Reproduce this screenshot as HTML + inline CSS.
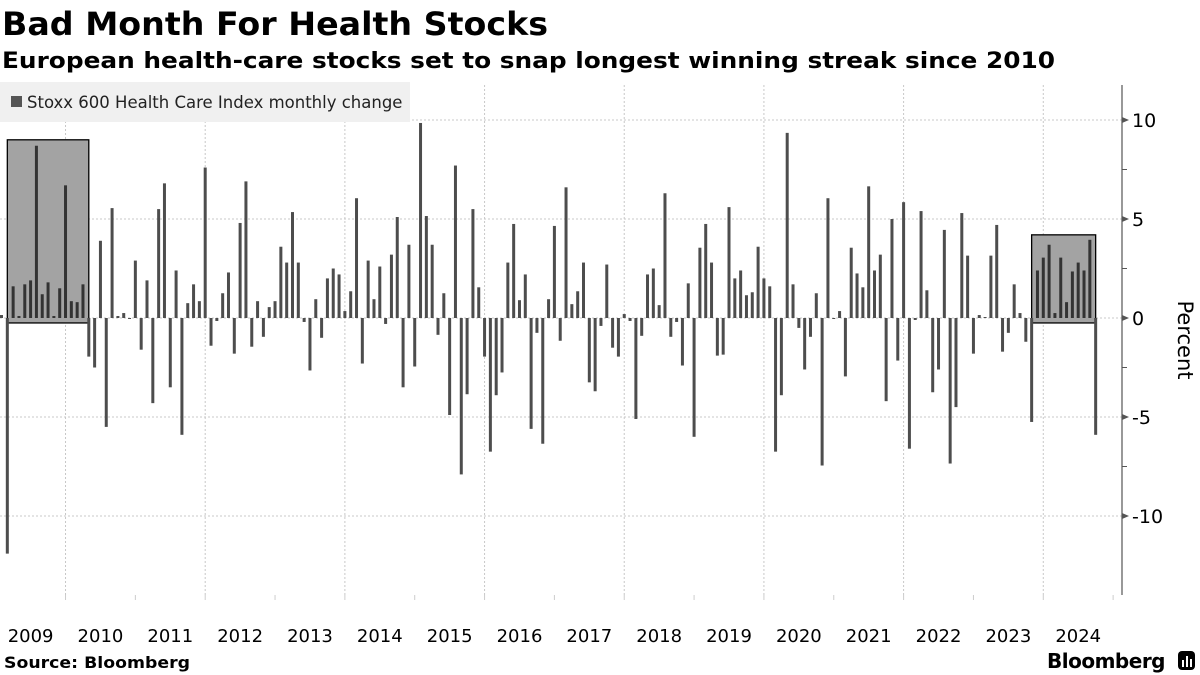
<!DOCTYPE html>
<html><head><meta charset="utf-8"><style>
html,body{margin:0;padding:0;background:#fff;width:1200px;height:675px;overflow:hidden}
svg{display:block;font-family:"DejaVu Sans","Liberation Sans",sans-serif}
</style></head><body>
<svg id="chart" width="1200" height="675" viewBox="0 0 1200 675">
<text x="2" y="35" font-size="32" font-weight="bold" fill="#000" textLength="546" lengthAdjust="spacingAndGlyphs">Bad Month For Health Stocks</text>
<text x="2" y="68" font-size="22.5" font-weight="bold" fill="#000" textLength="1053" lengthAdjust="spacingAndGlyphs">European health-care stocks set to snap longest winning streak since 2010</text>
<g id="grid"></g>
<g id="boxes"></g>
<g id="bars"></g>
<g id="axis"></g>
<g id="xaxis"></g>
<rect x="0" y="82" width="410" height="40" fill="#f0f0f0"/>
<rect x="11" y="96" width="11" height="11" fill="#555"/>
<text x="27" y="108" font-size="16.5" fill="#222">Stoxx 600 Health Care Index monthly change</text>
<text transform="translate(1178,340) rotate(90)" text-anchor="middle" font-size="21" fill="#000">Percent</text>
<text x="4" y="668" font-size="16" font-weight="bold" fill="#000" textLength="186" lengthAdjust="spacingAndGlyphs">Source: Bloomberg</text>
<text x="1165" y="668" text-anchor="end" font-size="20" font-weight="bold" fill="#000" letter-spacing="-0.5">Bloomberg</text>
<g><rect x="1178" y="651" width="17" height="19" rx="4" fill="#000"/><rect x="1182" y="660" width="2" height="7" fill="#fff"/><rect x="1186" y="656" width="2" height="11" fill="#fff"/><rect x="1190" y="659" width="2" height="8" fill="#fff"/></g>
</svg>
<script>
const values = [0.15,-11.9,1.6,0.1,1.7,1.9,8.7,1.2,1.8,0.1,1.5,6.7,0.85,0.8,1.7,-1.95,-2.5,3.9,-5.5,5.55,
0.1,0.25,-0.05,2.9,-1.6,1.9,-4.3,5.5,6.8,-3.5,2.4,-5.9,0.75,1.7,0.85,7.6,-1.4,-0.15,1.25,2.3,
-1.8,4.8,6.9,-1.45,0.85,-0.95,0.55,0.85,3.6,2.8,5.35,2.8,-0.2,-2.65,0.95,-1.0,2.0,2.5,2.2,0.35,
1.35,6.05,-2.3,2.9,0.95,2.6,-0.3,3.2,5.1,-3.5,3.7,-2.45,9.85,5.15,3.7,-0.85,1.25,-4.9,7.7,-7.9,
-3.85,5.5,1.55,-1.95,-6.75,-3.9,-2.75,2.8,4.75,0.9,2.2,-5.6,-0.75,-6.35,0.95,4.65,-1.15,6.6,0.7,1.35,
2.8,-3.25,-3.7,-0.4,2.7,-1.5,-1.95,0.2,-0.15,-5.1,-0.9,2.2,2.5,0.65,6.3,-0.95,-0.2,-2.4,1.75,-6.0,
3.55,4.75,2.8,-1.9,-1.85,5.6,2.0,2.4,1.15,1.3,3.6,2.0,1.6,-6.75,-3.9,9.35,1.7,-0.5,-2.6,-0.95,
1.25,-7.45,6.05,-0.05,0.35,-2.95,3.55,2.25,1.55,6.65,2.4,3.2,-4.2,5.0,-2.15,5.85,-6.6,-0.1,5.4,1.4,
-3.75,-2.6,4.45,-7.35,-4.5,5.3,3.15,-1.8,0.15,0.05,3.15,4.7,-1.7,-0.75,1.7,0.25,-1.2,-5.25,2.4,3.05,
3.7,0.25,3.05,0.8,2.35,2.8,2.4,3.95,-5.9];
const years = ["2009","2010","2011","2012","2013","2014","2015","2016","2017","2018","2019","2020","2021","2022","2023","2024"];
const yTicks = [10,5,0,-5,-10];
const minorTicks = [7.5,2.5,-2.5,-7.5];
const boxStart = [1,177];
const boxEnd = [15,188];
const boxTop = [9.0,4.2];

const NS="http://www.w3.org/2000/svg";
function xs(i){return 1.5+i*5.82;}
function ys(v){return 318-v*19.8;}
function mk(tag,attrs,parent){const e=document.createElementNS(NS,tag);for(const k in attrs)e.setAttribute(k,attrs[k]);parent.appendChild(e);return e;}
const grid=document.getElementById('grid'),bars=document.getElementById('bars'),axis=document.getElementById('axis'),xaxis=document.getElementById('xaxis'),boxes=document.getElementById('boxes');
const AX=1122;
yTicks.forEach(t=>{
  const l=mk('line',{x1:0,x2:AX,y1:ys(t),y2:ys(t),stroke:'#c8c8c8','stroke-dasharray':'2,2','stroke-width':1},grid);
  
  
  const tk=mk('path',{d:`M${AX} ${ys(t)-3} L${AX+7} ${ys(t)} L${AX} ${ys(t)+3} Z`,fill:'#555'},axis);
  
  
  const tx=mk('text',{x:AX+10,y:ys(t)+7,'font-size':19,fill:'#000'},axis);
  tx.textContent=t;
  
  
});
minorTicks.forEach(t=>{
  const m=mk('line',{x1:AX,x2:AX+5,y1:ys(t),y2:ys(t),stroke:'#555'},axis);
  
  
});
const al=mk('line',{x1:AX,x2:AX,y1:85,y2:595,stroke:'#555','stroke-width':1.2},axis);


years.forEach((y,k)=>{
  const bx=xs(11+12*k);
  if(k%2===0 && bx<AX){
    const g=mk('line',{x1:bx,x2:bx,y1:85,y2:595,stroke:'#c8c8c8','stroke-dasharray':'2,2'},grid);
    
    
  }
  if(bx<AX){
    const tk=mk('line',{x1:bx,x2:bx,y1:595,y2:600,stroke:'#ccc'},xaxis);
    
    
  }
  const lb=mk('text',{x:bx-34.9,y:642,'text-anchor':'middle','font-size':18,fill:'#000'},xaxis);
  lb.textContent=y;
  
  
});
function inBox(i){for(let b=0;b<boxStart.length;b++){if(i>boxStart[b]&&i<boxEnd[b])return true;}return false;}
boxStart.forEach((s,b)=>{
  const r=mk('rect',{x:xs(s),y:ys(boxTop[b]),width:xs(boxEnd[b])-xs(s),height:ys(-0.25)-ys(boxTop[b]),fill:'#a3a3a3',stroke:'#000','stroke-width':1.3},boxes);
  
  
});
values.forEach((v,i)=>{
  const y0=ys(0),y1=ys(v);
  const r=mk('rect',{x:xs(i)-1.5,y:Math.min(y0,y1),width:3,height:Math.max(0.8,Math.abs(y1-y0)),fill:inBox(i)?'#333':'#4d4d4d'},bars);
  
  
});
</script>
</body></html>
